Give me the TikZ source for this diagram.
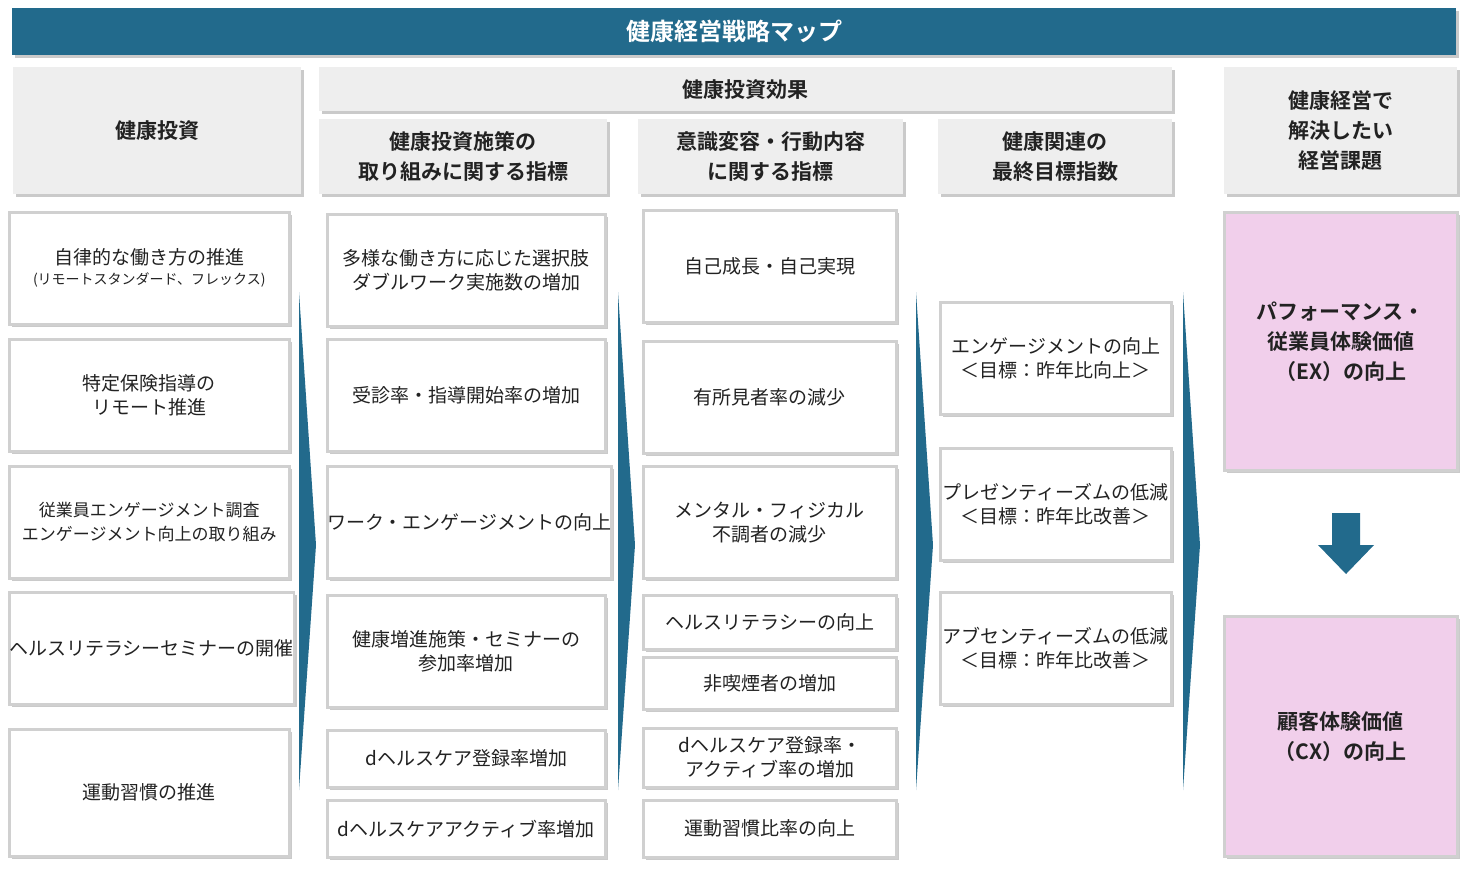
\documentclass[tikz,border=0pt]{standalone}
\usepackage{fontspec}
\setmainfont{Noto Sans CJK JP}[BoldFont={Noto Sans CJK JP Bold}]
\usetikzlibrary{shadows}
\definecolor{navy}{HTML}{226A8C}
\definecolor{hdr}{HTML}{EEEEEE}
\definecolor{bord}{HTML}{D0D0D0}
\definecolor{pinkf}{HTML}{F1CFEB}
\definecolor{txt}{HTML}{222222}
\tikzset{
 box/.style={draw=bord,line width=2.5pt,fill=white,anchor=north west,align=center,text=txt,inner sep=0pt,
   drop shadow={shadow xshift=3pt,shadow yshift=-3pt,fill=black!35,opacity=0.6},font=\fontsize{19}{24}\selectfont},
 hbox/.style={box,draw=none,fill=hdr,font=\fontsize{21}{30}\selectfont\bfseries},
 pbox/.style={box,fill=pinkf,font=\fontsize{21}{30}\selectfont\bfseries},
 chev/.style={fill=navy,draw=none},
}
\newcommand\bx[7][box]{\node[#1,minimum width={(#4-#2)*1pt},minimum height={(#5-#3)*1pt}] (#6) at (#2,#3) {#7};}
\begin{document}
\begin{tikzpicture}[x=1pt,y=-1pt]
\useasboundingbox (0,0) rectangle (1471,869);
\node[fill=navy,minimum width=1444pt,minimum height=47pt,anchor=north west,inner sep=0pt,text=white,font=\fontsize{24}{28}\selectfont\bfseries,
  drop shadow={shadow xshift=3pt,shadow yshift=-3pt,fill=black!35,opacity=0.6}] (title) at (12,8) {健康経営戦略マップ};
\bx[hbox]{12}{66}{300}{193}{h1}{健康投資}
\bx[hbox]{318}{66}{1171}{110}{h2}{健康投資効果}
\bx[hbox]{318}{118}{606}{193}{h21}{健康投資施策の\\取り組みに関する指標}
\bx[hbox]{637}{118}{902}{193}{h22}{意識変容・行動内容\\に関する指標}
\bx[hbox]{937}{118}{1171}{193}{h23}{健康関連の\\最終目標指数}
\bx[hbox]{1223}{66}{1456}{193}{h3}{健康経営で\\解決したい\\経営課題}
% column 1
\bx{8}{211}{288}{323}{a1}{自律的な働き方の推進\\[-4pt]{\fontsize{14}{18}\selectfont (リモートスタンダード、フレックス)}}
\bx{8}{338}{288}{450}{a2}{特定保険指導の\\リモート推進}
\bx{8}{465}{288}{577}{a3}{{\fontsize{17}{22}\selectfont 従業員エンゲージメント調査}\\{\fontsize{17}{22}\selectfont エンゲージメント向上の取り組み}}
\bx{8}{591}{288}{703}{a4}{ヘルスリテラシーセミナーの開催}
\bx{8}{728}{288}{855}{a5}{運動習慣の推進}
% column 2
\bx{326}{213}{604}{325}{b1}{多様な働き方に応じた選択肢\\ダブルワーク実施数の増加}
\bx{326}{338}{604}{450}{b2}{受診率・指導開始率の増加}
\bx{326}{465}{604}{577}{b3}{ワーク・エンゲージメントの向上}
\bx{326}{594}{604}{706}{b4}{健康増進施策・セミナーの\\参加率増加}
\bx{326}{729}{604}{786}{b5}{dヘルスケア登録率増加}
\bx{326}{799}{604}{856}{b6}{dヘルスケアアクティブ率増加}
% column 3
\bx{642}{209}{895}{321}{c1}{自己成長・自己実現}
\bx{642}{340}{895}{452}{c2}{有所見者率の減少}
\bx{642}{465}{895}{577}{c3}{メンタル・フィジカル\\不調者の減少}
\bx{642}{594}{895}{648}{c4}{ヘルスリテラシーの向上}
\bx{642}{656}{895}{708}{c5}{非喫煙者の増加}
\bx{642}{727}{895}{786}{c6}{dヘルスケア登録率・\\アクティブ率の増加}
\bx{642}{799}{895}{856}{c7}{運動習慣比率の向上}
% column 4
\bx{939}{301}{1170}{413}{d1}{エンゲージメントの向上\\＜目標：昨年比向上＞}
\bx{939}{447}{1170}{559}{d2}{プレゼンティーズムの低減\\＜目標：昨年比改善＞}
\bx{939}{591}{1170}{703}{d3}{アブセンティーズムの低減\\＜目標：昨年比改善＞}
% pink
\bx[pbox]{1223}{211}{1456}{469}{e1}{パフォーマンス・\\従業員体験価値\\（EX）の向上}
\bx[pbox]{1223}{615}{1456}{855}{e2}{顧客体験価値\\（CX）の向上}
% chevrons
\foreach \x in {299,618,916,1183}{
  \fill[chev] (\x,292) -- (\x+17,545) -- (\x,790) -- cycle;
}
% down arrow
\fill[navy] (1332,513) -- (1360,513) -- (1360,545) -- (1374,545) -- (1346,574) -- (1318,545) -- (1332,545) -- cycle;
\end{tikzpicture}
\end{document}
